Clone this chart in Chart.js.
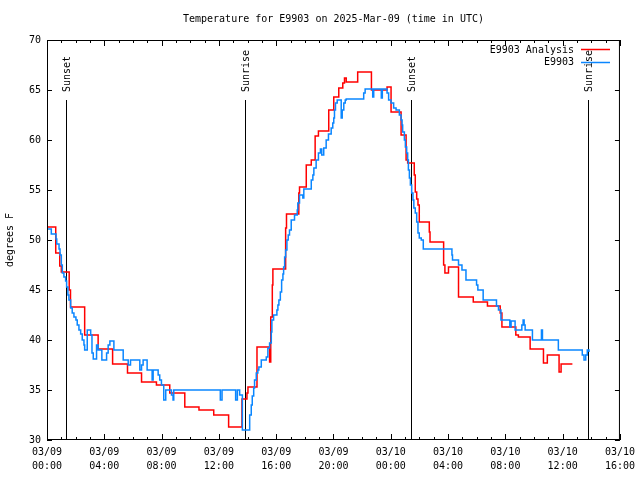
<!DOCTYPE html>
<html>
<head>
<meta charset="utf-8">
<script src="https://cdn.jsdelivr.net/npm/chart.js@4.4.1/dist/chart.umd.min.js"></script>
<style>
  html, body { margin: 0; padding: 0; background: #fff; }
</style>
</head>
<body>
<canvas id="chart" width="640" height="480"></canvas>
<script>
// time = hours since 2025-03-09 00:00 UTC
const analysisHours = [0, 0.61, 0.89, 1.00, 1.55, 1.64, 2.63, 3.57, 4.58, 5.62, 6.60, 7.64, 8.57, 9.62, 10.61, 11.64, 12.68, 13.61, 13.96, 14.03,
  14.66, 15.54, 15.62, 15.73, 15.77, 16.66, 16.72, 17.58, 17.63, 18.10, 18.45, 18.72, 18.95, 19.67, 20.02, 20.37, 20.65, 20.77, 20.89, 21.69,
  22.65, 23.74, 24.02, 24.72, 25.07, 25.18, 25.64, 25.71, 25.81, 25.90, 25.99, 26.69, 26.74, 27.69, 27.78, 28.03, 28.73, 29.76, 30.75, 31.64,
  31.76, 32.73, 32.91, 33.73, 34.66, 34.93, 35.75, 35.89, 36.68];
const analysisTemps = [51.3, 48.7, 47.4, 46.8, 45.0, 43.3, 40.5, 39.1, 37.6, 36.7, 35.8, 35.5, 34.7, 33.3, 33.0, 32.5, 31.3, 34.1, 34.7, 35.3,
  39.3, 37.8, 42.3, 45.5, 47.1, 51.2, 52.6, 54.7, 55.3, 57.5, 58.0, 60.4, 60.9, 63.0, 64.3, 65.2, 65.7, 66.2, 65.8, 66.8,
  65.0, 65.3, 62.8, 60.5, 58.0, 57.7, 56.5, 54.8, 54.1, 53.5, 51.8, 50.8, 49.8, 47.5, 46.7, 47.3, 44.3, 43.8, 43.4, 42.7,
  41.3, 40.5, 40.3, 39.1, 37.7, 38.5, 36.8, 37.6, 37.6];

const obsHours = [0, 0.30, 0.63, 0.68, 0.84, 0.91, 1.00, 1.07, 1.18, 1.30, 1.37, 1.46, 1.53, 1.65, 1.76, 1.88, 2.02, 2.11, 2.23, 2.35,
  2.46, 2.58, 2.63, 2.81, 3.05, 3.14, 3.23, 3.46, 3.57, 3.83, 4.16, 4.27, 4.39, 4.67, 5.32, 5.67, 5.83, 6.48, 6.60, 6.71,
  6.99, 7.34, 7.41, 7.76, 7.87, 7.99, 8.15, 8.29, 8.69, 8.80, 8.85, 12.10, 12.22, 13.17, 13.29, 13.45, 13.64, 14.15, 14.26, 14.33,
  14.43, 14.49, 14.61, 14.72, 14.79, 14.96, 15.31, 15.42, 15.54, 15.66, 15.70, 15.82, 16.05, 16.12, 16.19, 16.29, 16.38, 16.47, 16.52, 16.59,
  16.66, 16.75, 16.84, 16.93, 17.05, 17.28, 17.47, 17.51, 17.63, 17.86, 17.93, 18.45, 18.56, 18.63, 18.79, 18.95, 19.09, 19.18, 19.32, 19.49,
  19.65, 19.84, 19.95, 20.02, 20.07, 20.14, 20.26, 20.54, 20.61, 20.72, 20.82, 20.89, 22.11, 22.21, 22.74, 22.81, 23.34, 23.41, 23.74, 23.85,
  24.02, 24.20, 24.37, 24.60, 24.72, 24.79, 24.83, 24.95, 25.02, 25.11, 25.18, 25.23, 25.30, 25.37, 25.46, 25.55, 25.61, 25.71, 25.81, 25.90,
  25.99, 26.13, 26.27, 28.27, 28.31, 28.73, 28.97, 29.25, 29.99, 30.08, 30.45, 31.38, 31.52, 31.69, 32.31, 32.40, 32.68, 33.15, 33.24, 33.31,
  33.38, 33.89, 34.52, 34.59, 35.70, 37.37, 37.49, 37.61, 37.72, 37.84];
const obsTemps = [51.1, 50.6, 50.1, 49.6, 49.1, 48.5, 47.5, 46.7, 46.3, 45.9, 45.3, 44.5, 44.0, 43.2, 42.7, 42.3, 42.0, 41.5, 41.0, 40.6,
  40.0, 39.5, 39.0, 41.0, 40.5, 38.7, 38.1, 39.5, 39.0, 38.0, 38.7, 39.5, 39.9, 39.0, 38.0, 37.5, 38.0, 37.0, 37.5, 38.0,
  37.0, 36.0, 37.0, 36.5, 36.0, 35.5, 34.0, 35.0, 34.5, 34.0, 35.0, 34.0, 35.0, 34.0, 35.0, 34.5, 31.0, 32.5, 33.5, 34.4,
  35.2, 36.0, 36.7, 37.0, 37.3, 38.0, 38.3, 39.2, 39.7, 40.8, 42.0, 42.5, 43.0, 43.5, 44.0, 44.8, 46.0, 46.6, 47.3, 48.3,
  49.0, 50.0, 50.5, 51.0, 52.0, 52.5, 53.0, 53.7, 54.5, 54.2, 55.1, 56.0, 56.5, 57.2, 58.0, 58.7, 59.1, 58.5, 59.2, 60.0,
  60.6, 61.2, 61.7, 62.2, 63.0, 63.7, 64.0, 62.2, 63.0, 63.7, 64.0, 64.1, 64.7, 65.1, 64.3, 65.1, 64.2, 65.1, 64.7, 64.0,
  63.7, 63.2, 63.0, 62.5, 62.0, 61.5, 60.8, 60.0, 59.3, 58.7, 58.0, 57.0, 56.2, 55.5, 54.7, 54.0, 53.2, 52.7, 51.8, 50.7,
  50.2, 50.0, 49.1, 48.5, 48.0, 47.5, 47.0, 46.0, 45.5, 45.0, 44.0, 43.4, 43.0, 42.0, 41.3, 41.9, 41.0, 41.5, 42.0, 41.5,
  41.0, 40.0, 41.0, 40.0, 39.0, 38.5, 38.0, 38.5, 39.0, 38.8];

const xTickLabels = [['03/09', '00:00'], ['03/09', '04:00'], ['03/09', '08:00'], ['03/09', '12:00'], ['03/09', '16:00'], ['03/09', '20:00'],
  ['03/10', '00:00'], ['03/10', '04:00'], ['03/10', '08:00'], ['03/10', '12:00'], ['03/10', '16:00']];

const sunHours = [1.35, 13.82, 25.39, 37.79];
const sunLabels = ['Sunset', 'Sunrise', 'Sunset', 'Sunrise'];
const sunLineTop = 64; // degrees, where the marker line stops

const FONT = '"DejaVu Sans Mono", "Liberation Mono", monospace';
const RED = '#ff0000';
const BLUE = '#0a86ff';

function toPoints(xs, ys) {
  return xs.map((h, i) => ({ x: h, y: ys[i] }));
}

// gnuplot-like frame, inward ticks, title, legend, sun markers
const gnuplotDecor = {
  id: 'gnuplotDecor',
  beforeDatasetsDraw(chart) {
    const { ctx, chartArea: a, scales: { x, y } } = chart;
    ctx.save();
    ctx.strokeStyle = '#000';
    ctx.lineWidth = 1;
    sunHours.forEach(h => {
      const px = Math.round(x.getPixelForValue(h)) + 0.5;
      ctx.beginPath();
      ctx.moveTo(px, a.bottom);
      ctx.lineTo(px, y.getPixelForValue(sunLineTop));
      ctx.stroke();
    });
    ctx.restore();
  },
  afterDraw(chart) {
    const { ctx, chartArea: a, scales: { x, y } } = chart;
    ctx.save();
    ctx.strokeStyle = '#000';
    ctx.lineWidth = 1;
    ctx.strokeRect(a.left + 0.5, a.top + 0.5, a.right - a.left - 1, a.bottom - a.top - 1);

    ctx.beginPath();
    for (let h = 0; h <= 40; h++) {
      const len = h % 4 === 0 ? 6 : 3;
      const px = Math.round(x.getPixelForValue(h)) + 0.5;
      ctx.moveTo(px, a.bottom); ctx.lineTo(px, a.bottom - len);
      ctx.moveTo(px, a.top); ctx.lineTo(px, a.top + len);
    }
    for (let t = 30; t <= 70; t += 5) {
      const py = Math.round(y.getPixelForValue(t)) + 0.5;
      ctx.moveTo(a.left, py); ctx.lineTo(a.left + 5, py);
      ctx.moveTo(a.right, py); ctx.lineTo(a.right - 5, py);
    }
    ctx.stroke();

    ctx.fillStyle = '#000';
    ctx.font = '10px ' + FONT;
    ctx.textBaseline = 'middle';
    ctx.textAlign = 'center';
    ctx.fillText('Temperature for E9903 on 2025-Mar-09 (time in UTC)', (a.left + a.right) / 2, 19);

    // sun labels, rotated
    sunHours.forEach((h, i) => {
      const px = Math.round(x.getPixelForValue(h)) + 1;
      ctx.save();
      ctx.translate(px, y.getPixelForValue(sunLineTop) - 8);
      ctx.rotate(-Math.PI / 2);
      ctx.textAlign = 'left';
      ctx.fillText(sunLabels[i], 0, 0);
      ctx.restore();
    });

    // legend
    const items = [['E9903 Analysis', RED], ['E9903', BLUE]];
    ctx.textAlign = 'right';
    items.forEach((it, i) => {
      const ly = 50 + i * 12.5;
      ctx.fillStyle = '#000';
      ctx.fillText(it[0], 574, ly);
      ctx.strokeStyle = it[1];
      ctx.lineWidth = 1.5;
      ctx.beginPath();
      ctx.moveTo(581, Math.round(ly) - 0.5);
      ctx.lineTo(610, Math.round(ly) - 0.5);
      ctx.stroke();
    });
    ctx.restore();
  }
};

const ctx = document.getElementById('chart').getContext('2d');
new Chart(ctx, {
  type: 'line',
  data: {
    datasets: [
      {
        label: 'E9903 Analysis',
        data: toPoints(analysisHours, analysisTemps),
        borderColor: RED,
        borderWidth: 1.5,
        stepped: true,
        pointRadius: 0,
        fill: false,
        order: 2
      },
      {
        label: 'E9903',
        data: toPoints(obsHours, obsTemps),
        borderColor: BLUE,
        borderWidth: 1.5,
        stepped: true,
        pointRadius: 0,
        fill: false,
        order: 1
      }
    ]
  },
  options: {
    responsive: false,
    animation: false,
    devicePixelRatio: 1,
    layout: { padding: { top: 40, right: 19, left: 0, bottom: 0 } },
    plugins: {
      legend: { display: false },
      tooltip: { enabled: false },
      title: { display: false }
    },
    scales: {
      x: {
        type: 'linear',
        min: 0,
        max: 40,
        afterFit(s) { s.height = 40; },
        grid: { display: false, drawTicks: false },
        border: { display: false },
        ticks: {
          stepSize: 4,
          autoSkip: false,
          maxRotation: 0,
          padding: 5,
          color: '#000',
          font: { family: FONT, size: 10, lineHeight: 1.4 },
          callback: v => xTickLabels[Math.round(v / 4)]
        }
      },
      y: {
        min: 30,
        max: 70,
        afterFit(s) { s.width = 47; },
        grid: { display: false, drawTicks: false },
        border: { display: false },
        ticks: {
          stepSize: 5,
          padding: 6,
          color: '#000',
          font: { family: FONT, size: 10 }
        },
        title: {
          display: true,
          text: 'degrees F',
          color: '#000',
          font: { family: FONT, size: 10 },
          padding: { top: 4, bottom: 0 }
        }
      }
    }
  },
  plugins: [gnuplotDecor]
});
</script>
</body>
</html>
